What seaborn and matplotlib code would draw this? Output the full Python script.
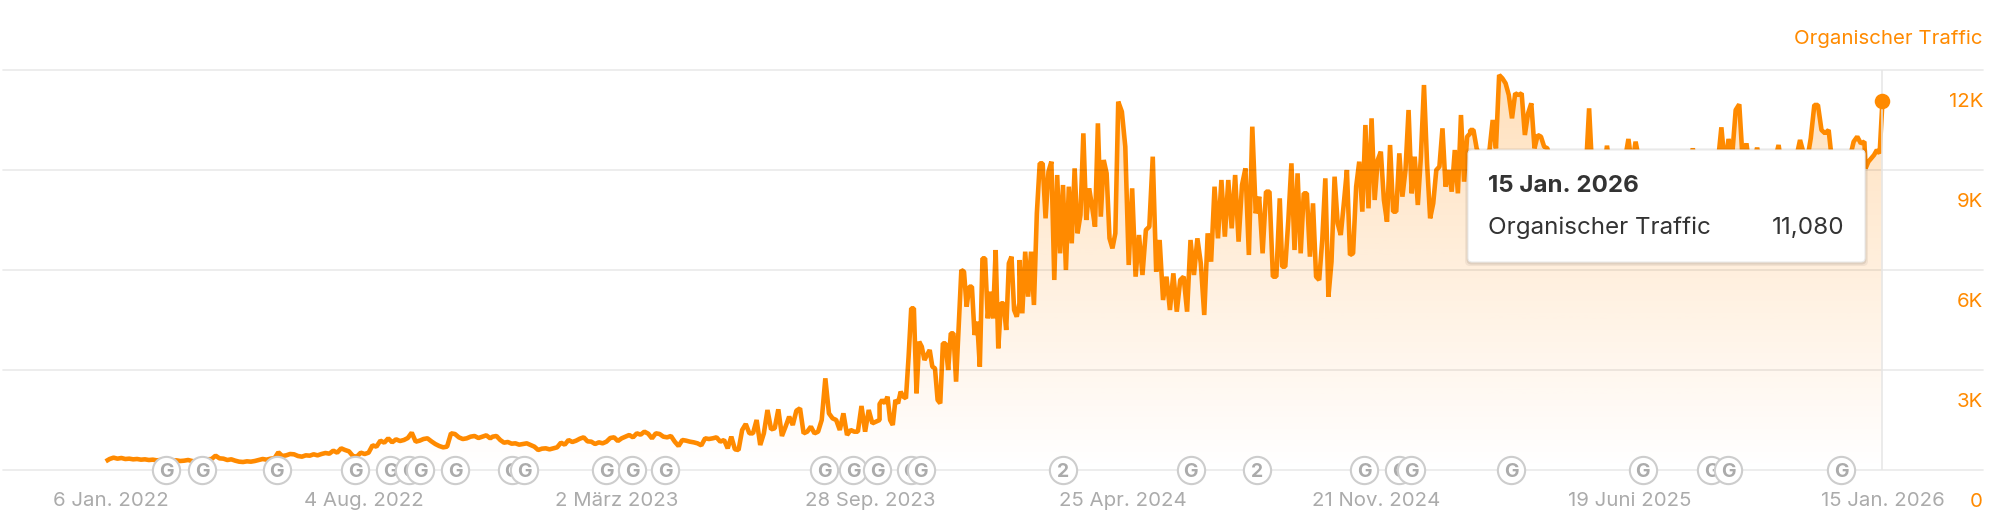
import numpy as np
import pandas as pd
import matplotlib
matplotlib.use("Agg")
import matplotlib.pyplot as plt
import matplotlib.dates as mdates
from matplotlib.patches import FancyBboxPatch
from matplotlib.transforms import ScaledTranslation, IdentityTransform
import seaborn as sns

# ---------- data ----------
traffic_2022 = [260,330,370,340,360,330,340,320,330,310,320,300,310,290,300,290,300,280,290,270,280,300,270,250,240,
                280,320,330,430,350,340,300,320,280,250,240,260,250,270,300,330,310,340,350,530,420,440,480,470,420,
                400,440,430,470,440,480,510,490,580,520,650,600,560,420,400,520,480,520,740,700,880,820,950,830,920,
                870,900,960,1120,850,880,930,950,860,780,720,680,700,1100,1080,980,930,950,1000,1020,960,1000,1040,950]
traffic_2023a = [1000,1020,900,820,840,790,800,760,780,800,750,700,600,640,650,620,650,680,820,760,900,840,880,940,
                 980,860,850,780,830,800,850,960,980,870,950,1000,1050,980,1100,1060,1150,1090,950,1100,1080,1000,
                 980,1020,850,720,900,880,850,830,800,740,950,930,950,980,850,900]
traffic_2023b = [650,1000,620,600,1200,1380,1100,1100,1500,750,1100,1800,1220,1250,1820,1020,1300,1600,1350,1780,
                 1850,1100,1150,1300,1100,1150,1500,2750,1700,1550,1500,1200,1700,1050,1200,1150,1150,1920,1150,
                 1800,1400,1450,1980]
traffic_2023c = [1500,2100,2000,2200,1500,1350,2100,2000,2350,2200,2150,3400,4850,4850,2300,3850,3700,3300,3450,
                 3600,3100,3050,2100,2000,3800,3800,3000,4100,4100,2650,4300,6000,5950,4900,5500,5500,4050,4450,
                 3100,6350,6350,4550,5350,4550,6600,3650,5000,5000,4200,6200,6400,4800,4600,6300]
traffic_2024a = [5000,4700,6550,5200,6550,4950,7700,9200,9200,7550,8950,9250,5700,8850,6500,8550,6000,8500,6800,
                 9050,7100,7650,10100,7500,8450,7900,7300,10400,7600,9300,8900,6950,6650,7100,11050]
traffic_2024a2 = [10750,9700,
                 6150,8450,5800,7050,5850,7200,7300,9400,5950,6900,5100,5800,4800,5900,4750,5700,5800,4750,6900,
                 5850,6950,6200,4650,7100,6250,8500,6950,8700,7000,8700,7250,8850,6850,8550,9050,6450,10300,7700,
                 8200,6500,8350,8350,5800,5800,8150]
traffic_2024b = [6100,6100,7500,9200,6600,8900,6500,8300,8300,6400,8000,5800,5700,6900,8750,5200,6250,8800,7400,
                 7050,8000,9000,6450,6500,8500,9250,7750,10350,7850,10550,8100,9300,9550,8100,7450,9750,7750,7750,
                 9500,8200,9000,10800,8300,9400,7950,9400,11550,9200,7550,8000,9000,9100,10250,8500,9000,8350,9600,
                 8300,10650,8650,10000,10100]
traffic_2025a = [10200,10200,9650,9400,9200,9500,9600,10500,9650,11850,11750,11600,11250,10550,11300,11250,11300,
                 10050,10700,11000,9650,10050,10000,9700,9650]
traffic_2025b = [9300,9100,8800,9200,8700,9000,9300,8600,8900,9200,8800,10850,8700,9000,9200,8800,9730,8900,9100,
                 8600,9000,9300,9930,9100,9850,9300,8800,9100,8700,9000,9200,8900,8600,9100,9300,8800,9000,9200,
                 8700,9000,9650,9000,8800,9200,8900,9100,8700,9200,10280,9100,9930,9400,10800,10970,9200,9800,9000,
                 9200,9670,9100,8900,9200,8800,9300,9750,9000,9200,8800,9100,9400,9900,9500,9300,9950,10950,10950,
                 10200,10100,10200,9200,8900,9300,9000,8800,9400,9850,10000,9800,9850]
traffic_2026 = [9050,9250,9350,9450,9600,9500,11080]

segments = [("2022-01-02", "2022-11-17", traffic_2022),
            ("2022-11-19", "2023-05-30", traffic_2023a),
            ("2023-06-02", "2023-10-06", traffic_2023b),
            ("2023-10-06", "2024-01-30", traffic_2023c),
            ("2024-01-30", "2024-04-21", traffic_2024a),
            ("2024-04-24", "2024-09-02", traffic_2024a2),
            ("2024-09-04", "2025-02-07", traffic_2024b),
            ("2025-02-07", "2025-04-12", traffic_2025a),
            ("2025-04-14", "2025-12-31", traffic_2025b),
            ("2026-01-01", "2026-01-15", traffic_2026)]

tick_dates = ["2022-01-06","2022-08-04","2023-03-02","2023-09-28","2024-04-25","2024-11-21","2025-06-19","2026-01-15"]
tick_labels = ["6 Jan. 2022","4 Aug. 2022","2 März 2023","28 Sep. 2023","25 Apr. 2024","21 Nov. 2024","19 Juni 2025","15 Jan. 2026"]
y_ticks = [0, 3000, 6000, 9000, 12000]
y_labels = ["0", "3K", "6K", "9K", "12K"]

event_dates = ["2022-02-21","2022-03-23","2022-05-24","2022-07-28","2022-08-26","2022-09-11","2022-09-20","2022-10-19",
               "2022-12-05","2022-12-15","2023-02-21","2023-03-15","2023-04-11","2023-08-21","2023-09-14","2023-10-04",
               "2023-11-01","2023-11-09","2024-03-06","2024-06-20","2024-08-14","2024-11-11","2024-12-10","2024-12-20",
               "2025-03-13","2025-06-30","2025-08-26","2025-09-09","2025-12-12"]
event_marks = ["G"]*18 + ["2","G","2"] + ["G"]*8

series_name = "Organischer Traffic"
tooltip_date = "15 Jan. 2026"
tooltip_value = "11,080"

# ---------- build table ----------
frames = [pd.DataFrame({"date": pd.date_range(s, e, periods=len(v)), "traffic": v}) for s, e, v in segments]
df = pd.concat(frames, ignore_index=True)

ORANGE = "#FF8A00"
GREY = "#ABABAB"

sns.set_theme(style="white")
plt.rcParams["font.family"] = ["Inter", "DejaVu Sans"]

W, H = 2004, 517
fig = plt.figure(figsize=(W/100, H/100), dpi=100)
ax = fig.add_axes([3/W, 1-470/H, 1980/W, 400/H])

x0 = pd.Timestamp("2022-01-06")
xlim = (x0 - pd.Timedelta(days=89.2), x0 + pd.Timedelta(days=1553.4))
xlim_n = mdates.date2num(xlim)

# area gradient
poly = ax.fill_between(df["date"], df["traffic"], 0, color="none", lw=0)
rows = 256
grad = np.zeros((rows, 2, 4))
grad[..., :3] = matplotlib.colors.to_rgb(ORANGE)
grad[..., 3] = (np.linspace(0.27, 0, rows))[:, None]
im = ax.imshow(grad, extent=[xlim_n[0], xlim_n[1], 0, 12000], aspect="auto", origin="upper", zorder=1, interpolation="bilinear")
im.set_clip_path(poly.get_paths()[0], transform=ax.transData)

sns.lineplot(data=df, x="date", y="traffic", ax=ax, color=ORANGE, lw=3.3, zorder=2,
             solid_joinstyle="bevel", solid_capstyle="butt", errorbar=None, estimator=None)

ax.set_xlim(xlim)
ax.set_ylim(0, 12000)
ax.set_xlabel("")
ax.set_ylabel("")
for s in ax.spines.values():
    s.set_visible(False)

# grid above the line
for v in y_ticks:
    ax.axhline(v, color="black", alpha=0.085, lw=1.2, zorder=3, clip_on=False)

# cursor
last = df.iloc[-1]
ax.plot([last["date"]]*2, [0, 12000], color="#e6e6e6", lw=1.1, zorder=3)
ax.scatter([last["date"]], [last["traffic"]], s=125, color=ORANGE, zorder=5, linewidths=0)

# ticks
ax.set_xticks(mdates.date2num(pd.to_datetime(tick_dates)))
ax.set_xticklabels(tick_labels)
ax.tick_params(axis="x", length=0, pad=15.5, labelsize=14.7, labelcolor=GREY)
ax.yaxis.tick_right()
ax.set_yticks(y_ticks)
ax.set_yticklabels(y_labels)
ax.tick_params(axis="y", length=0, pad=0, labelsize=14.7, labelcolor=ORANGE)
off = ScaledTranslation(0, -30/100, fig.dpi_scale_trans)
for lab in ax.get_yticklabels():
    lab.set_ha("right")
    lab.set_transform(lab.get_transform() + off)

# update markers: each later marker sits on top of the earlier one
edates = pd.to_datetime(event_dates)
for i, (d, m) in enumerate(zip(edates, event_marks)):
    ax.scatter([d], [0], s=385, color="white", edgecolor="#CDCDCD", linewidth=1.5, zorder=6+2*i, clip_on=False)
    ax.text(d, 0, m, ha="center", va="center_baseline", fontsize=14, fontweight="bold", color="#ABABAB",
            zorder=7+2*i, clip_on=False)
ax.set_xlim(xlim)
ax.set_ylim(0, 12000)

# series title
fig.text(1983/W, 1-39/H, series_name, ha="right", va="center", fontsize=14.7, color=ORANGE)

# tooltip
it = IdentityTransform()
bx, by, bw, bh = 1468, H-262, 397, 112
for grow, a in ((3, 0.05), (1.5, 0.08)):
    fig.add_artist(FancyBboxPatch((bx-grow, by-grow-1), bw+2*grow, bh+2*grow, boxstyle="round,pad=0,rounding_size=5",
                                  transform=it, fc="black", ec="none", alpha=a, zorder=10))
fig.add_artist(FancyBboxPatch((bx, by), bw, bh, boxstyle="round,pad=0,rounding_size=4", transform=it,
                              fc="white", ec="#EAEAEA", lw=0.8, zorder=11))
fig.text(1488/W, 1-186/H, tooltip_date, ha="left", va="center", fontsize=17.4, fontweight="bold", color="#333333", zorder=12)
fig.text(1488/W, 1-228/H, series_name, ha="left", va="center", fontsize=17.4, color="#333333", zorder=12)
fig.text(1844/W, 1-228/H, tooltip_value, ha="right", va="center", fontsize=17.4, color="#333333", zorder=12)

fig.savefig("out.png", dpi=100, facecolor="white")
